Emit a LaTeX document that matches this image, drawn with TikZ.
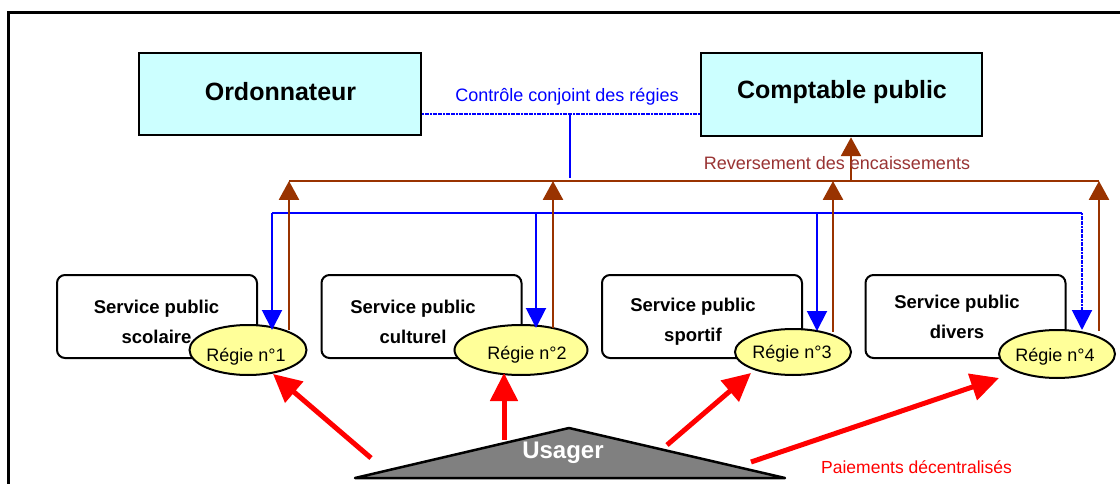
\documentclass[tikz,border=0pt]{standalone}
\usepackage{fontspec}
\setmainfont{Liberation Sans}
\usetikzlibrary{arrows.meta,shapes.geometric}
\definecolor{boxcyan}{HTML}{CCFFFF}
\definecolor{regyellow}{HTML}{FFFF99}
\definecolor{revbrown}{HTML}{993300}
\definecolor{revtext}{HTML}{993333}
\definecolor{usagergray}{HTML}{808080}
\definecolor{ctrlblue}{HTML}{0000FF}
\tikzset{
  topbox/.style={draw=black, line width=2.5pt, fill=boxcyan, inner sep=0pt,
    minimum width=282pt, minimum height=82pt, font=\fontsize{25}{30}\selectfont\bfseries},
  servbox/.style={draw=black, line width=2pt, rounded corners=8pt, fill=white,
    minimum width=200pt, minimum height=83pt, inner sep=0pt},
  servtext/.style={align=center, font=\fontsize{18.5}{30}\selectfont\bfseries, inner sep=0pt},
  regie/.style={ellipse, draw=black, line width=2pt, fill=regyellow, inner sep=0pt,
    minimum width=117pt, minimum height=50pt},
  regtext/.style={font=\fontsize{18}{20}\selectfont, inner sep=0pt},
  bluebar/.style={draw=ctrlblue, line width=2pt},
  bluearrow/.style={draw=ctrlblue, line width=2pt, -{Triangle[length=20pt,width=20pt]}},
  brownbar/.style={draw=revbrown, line width=1.7pt},
  brownarrow/.style={draw=revbrown, line width=2.7pt, -{Triangle[length=19pt,width=20pt]}},
  redarrow/.style={draw=red, line width=5pt, -{Triangle[length=28pt,width=27pt]}},
  lbl/.style={inner sep=0pt, font=\fontsize{18}{20}\selectfont},
}
\begin{document}
\begin{tikzpicture}[x=1pt,y=-1pt]
\useasboundingbox (0,0) rectangle (1120,484);
\clip (0,0) rectangle (1120,484);
\fill[white] (0,0) rectangle (1120,484);
\draw[line width=3pt] (8.5,12.5) rectangle (1135,500);

% top boxes
\node[topbox] (ord) at (280,94) {};
\node[inner sep=0pt, font=\fontsize{25}{30}\selectfont\bfseries] (ordt) at (280.5,92) {Ordonnateur};
\node[topbox, minimum width=281pt, minimum height=83pt] (cp) at (841.5,94.5) {};
\node[inner sep=0pt, font=\fontsize{25}{30}\selectfont\bfseries] (cpt) at (842,92) {Comptable public};

% control line
\draw[draw=ctrlblue, line width=2.5pt, dash pattern=on 2pt off 0.6pt] (ord.east |- 0,114) coordinate (c1) -- (cp.west |- 0,114) coordinate (c2);
\node[lbl, text=ctrlblue] (ctrl) at (567,97) {Contrôle conjoint des régies};
\coordinate (cv1) at (570,114);
\coordinate (cv2) at (570,178);
\draw[bluebar] (cv1) -- (cv2);

% service boxes
\node[servbox] (s1) at (157,316.5) {};
\node[servbox] (s2) at (421.5,316.5) {};
\node[servbox] (s3) at (702,316.5) {};
\node[servbox] (s4) at (965.5,316.5) {};
\node[servtext] (s1t) at (156.5,322) {Service public\\scolaire};
\node[servtext] (s2t) at (413,322) {Service public\\culturel};
\node[servtext] (s3t) at (693,322) {Service public\\sportif};
\node[servtext] (s4t) at (957,317) {Service public\\divers};

% regies
\node[regie] (r1) at (248,350) {};
\node[regie, minimum width=133pt] (r2) at (521,350) {};
\node[regie, minimum width=116pt, minimum height=46pt] (r3) at (793,352) {};
\node[regie, minimum width=116pt, minimum height=48pt] (r4) at (1057,354) {};
\node[regtext] (r1t) at (246,357) {Régie n°1};
\node[regtext] (r2t) at (527,355) {Régie n°2};
\node[regtext] (r3t) at (792,354) {Régie n°3};
\node[regtext] (r4t) at (1055,357) {Régie n°4};

% blue distribution
\coordinate (b1) at (272,213);
\coordinate (b2) at (536,213);
\coordinate (b3) at (817,213);
\coordinate (b4) at (1082,213);
\coordinate (bt1) at (272,330);
\coordinate (bt2) at (536,328);
\coordinate (bt3) at (817,331);
\coordinate (bt4) at (1082,330);
\draw[bluebar] (b1) -- (b4);
\draw[bluearrow] (b1) -- (bt1);
\draw[bluearrow] (b2) -- (bt2);
\draw[bluearrow] (b3) -- (bt3);
\draw[bluearrow, dash pattern=on 2pt off 0.6pt] (b4) -- (bt4);

% brown collection
\coordinate (h1) at (289,181);
\coordinate (h2) at (553,181);
\coordinate (h3) at (833,181);
\coordinate (h4) at (1099,181);
\coordinate (hc) at (851,181);
\coordinate (g1) at (289,330);
\coordinate (g2) at (553,328);
\coordinate (g3) at (833,332);
\coordinate (g4) at (1099,331);
\draw[brownbar] (h1) -- (h4);
\draw[brownarrow] (g1) -- (h1);
\draw[brownarrow] (g2) -- (h2);
\draw[brownarrow] (g3) -- (h3);
\draw[brownarrow] (g4) -- (h4);
\draw[brownarrow] (hc) -- (hc |- cp.south);
\node[lbl, text=revtext] (rev) at (837,163) {Reversement des encaissements};

% usager
\coordinate (u1) at (355,478);
\coordinate (u2) at (569,428);
\coordinate (u3) at (785,478);
\draw[line width=2.5pt, fill=usagergray, line join=round] (u1) -- (u2) -- (u3) -- cycle;
\node[inner sep=0pt, text=white, font=\fontsize{24}{28}\selectfont\bfseries] (us) at (563,453) {Usager};

% payments
\coordinate (p1) at (371,458);
\coordinate (p2) at (504,440);
\coordinate (p3) at (667,445);
\coordinate (p4) at (751,462);
\coordinate (q1) at (273,374);
\coordinate (q2) at (504,373);
\coordinate (q3) at (751,373);
\coordinate (q4) at (999,378);
\draw[redarrow] (p1) -- (q1);
\draw[redarrow] (p2) -- (q2);
\draw[redarrow] (p3) -- (q3);
\draw[redarrow] (p4) -- (q4);
\node[lbl, text=red, font=\fontsize{17.5}{20}\selectfont] (pay) at (916.5,467) {Paiements décentralisés};
\end{tikzpicture}
\end{document}
